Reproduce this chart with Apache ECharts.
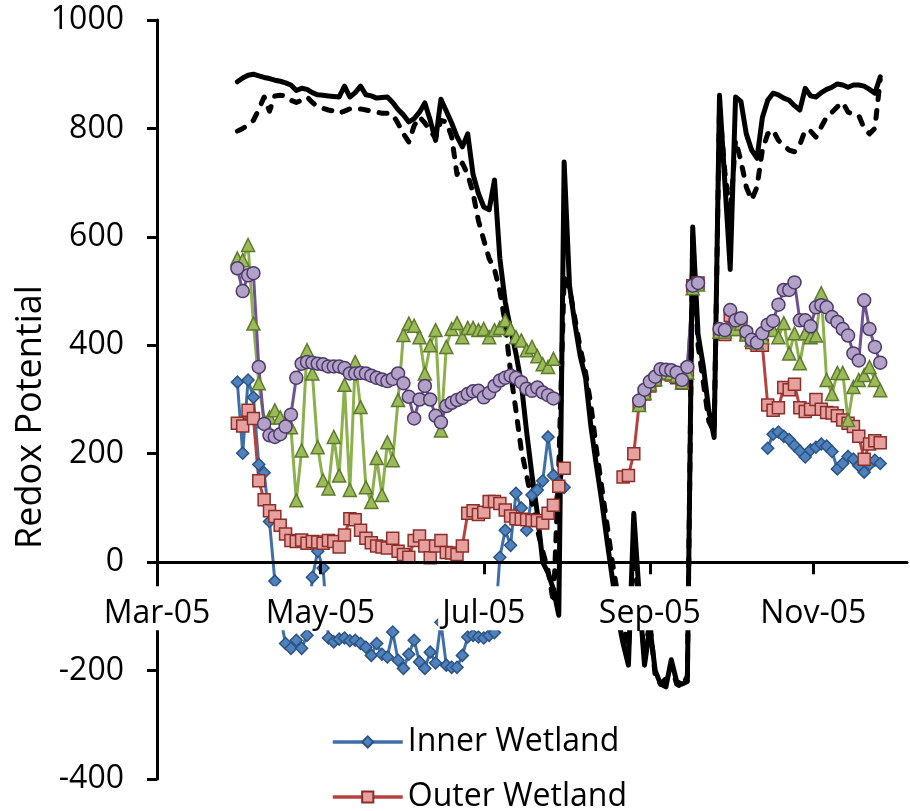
<!DOCTYPE html>
<html>
<head>
<meta charset="utf-8">
<title>Redox Potential 2005</title>
<script src="https://cdn.jsdelivr.net/npm/echarts@6/dist/echarts.min.js"></script>
<style>
  html, body { margin: 0; padding: 0; background: #fff; }
  #chart { width: 910px; height: 811px; }
</style>
</head>
<body>
<div id="chart"></div>
<script>
// x values are days counted from 1 March 2005; readings every second day from 31 March
const FIRST_DAY = 30;
const DAY_STEP = 2;
const SAMPLE_COUNT = 121;
const sampleDays = Array.from({ length: SAMPLE_COUNT }, (_, k) => FIRST_DAY + DAY_STEP * k);

// month ticks (days from 1 March 2005) and their labels
const tickDays = [0, 61, 122, 184, 245];
const tickLabels = ['Mar-05', 'May-05', 'Jul-05', 'Sep-05', 'Nov-05'];
const xMaxDay = 280;

// y axis range (mV)
const yMin = -400, yMax = 1000, yStep = 200;

const innerWetland = [
  332, 201, 336, 304, 180, 165, 75, -35, -100, -150,
  -159, -144, -159, -135, -28, 20, -11, -140, -147, -142,
  -140, -145, -144, -150, -157, -172, -150, -170, -175, -129,
  -181, -196, -170, -144, -184, -196, -166, -186, -111, -190,
  -194, -194, -172, -138, -135, -138, -140, -135, -130, 9,
  59, 31, 127, 100, 59, 124, 133, 150, 231, 160,
  146, 138, null, null, null, null, null, null, null, null,
  null, null, null, null, null, null, null, null, null, null,
  null, null, null, null, null, null, null, null, null, null,
  null, null, null, null, null, null, null, null, null, 210,
  236, 240, 232, 226, 215, 205, 194, 207, 212, 218,
  214, 204, 172, 182, 195, 190, 178, 166, 180, 188,
  182
];

const outerWetland = [
  256, 251, 280, 265, 150, 115, 95, 84, 68, 52,
  40, 38, 41, 35, 38, 37, 35, 40, 38, 28,
  50, 80, 78, 59, 44, 36, 30, 28, 26, 44,
  20, 14, 9, 40, 48, 30, 8, 30, 40, 18,
  17, 14, 30, 90, 95, 88, 92, 112, 112, 108,
  96, 85, 80, 79, 78, 77, 77, 72, 90, 105,
  140, 173, null, null, null, null, null, null, null, null,
  null, null, 157, 160, 200, 292, 310, 325, 336, 348,
  348, 345, 340, 330, 355, 510, 515, null, null, null,
  425, 420, 455, 440, 440, 420, 405, 400, 400, 290,
  280, 285, 322, 318, 328, 285, 278, 282, 300, 282,
  276, 275, 270, 262, 256, 250, 232, 190, 218, 224,
  220
];

const greenSite = [
  560, 557, 585, 440, 330, 260, 267, 280, 267, 255,
  249, 114, 206, 391, 348, 212, 151, 136, 231, 160,
  327, 133, 369, 286, 138, 111, 192, 124, 221, 188,
  299, 419, 440, 436, 415, 348, 400, 428, 243, 397,
  430, 441, 415, 432, 432, 428, 430, 415, 428, 432,
  446, 430, 415, 409, 391, 397, 380, 365, 360, 375,
  null, null, null, null, null, null, null, null, null, null,
  null, null, null, null, null, 290, 312, 328, 338, 350,
  350, 348, 344, 332, 350, 505, 512, null, null, null,
  425, 425, 430, 430, 440, 420, 410, 405, 415, 430,
  428, 415, 441, 385, 422, 367, 422, 415, 418, 496,
  336, 310, 349, 349, 262, 323, 336, 345, 360, 336,
  317
];

const purpleSite = [
  542, 500, 529, 533, 360, 255, 234, 231, 236, 250,
  272, 340, 366, 369, 368, 366, 365, 361, 361, 361,
  358, 348, 348, 349, 348, 344, 340, 337, 334, 338,
  348, 330, 305, 265, 300, 325, 300, 270, 258, 288,
  294, 299, 303, 310, 315, 316, 304, 312, 325, 335,
  340, 344, 340, 332, 320, 316, 322, 313, 308, 302,
  null, null, null, null, null, null, null, null, null, null,
  null, null, null, null, null, 298, 318, 333, 342, 356,
  355, 354, 350, 336, 360, 510, 515, null, null, null,
  430, 428, 465, 446, 450, 425, 410, 405, 422, 438,
  445, 475, 502, 502, 516, 446, 446, 435, 470, 474,
  470, 452, 443, 430, 418, 385, 372, 483, 430, 397,
  368
];

const blackSolid = [
  886, 893, 898, 900, 897, 894, 892, 889, 887, 884,
  880, 870, 874, 872, 866, 862, 861, 860, 859, 858,
  878, 858, 866, 878, 862, 860, 856, 857, 858, 848,
  835, 825, 812, 818, 830, 847, 815, 778, 854, 832,
  810, 785, 766, 790, 715, 680, 655, 650, 705, 560,
  480, 430, 385, 330, 240, 160, 90, 0, -20, -50,
  -98, 738, 510, 440, 380, 340, 250, 180, 114, 40,
  -30, -100, -150, -190, 90, -60, -190, -120, -200, -225,
  -230, -180, -220, -225, -220, 618, 420, 360, 280, 230,
  861, 700, 540, 858, 850, 790, 760, 745, 820, 852,
  865, 862, 856, 852, 842, 834, 874, 860, 858, 866,
  872, 876, 882, 880, 876, 880, 880, 878, 872, 865,
  895
];

const blackDashed = [
  795, 800, 806, 815, 835, 858, 832, 860, 861, 860,
  852, 848, 852, 858, 848, 840, 837, 834, 832, 828,
  832, 836, 837, 836, 834, 832, 830, 828, 828, 826,
  809, 790, 775, 805, 821, 810, 796, 782, 815, 812,
  785, 715, 736, 715, 680, 630, 594, 560, 540, 500,
  440, 350, 280, 207, 160, 110, 60, 20, -15, -75,
  175, 526, 505, 450, 395, 350, 290, 210, 140, 70,
  0, -60, -110, -160, 30, -80, -170, -110, -210, -225,
  -215, -190, -225, -230, -210, 600, 400, 330, 260, 240,
  840, 720, 640, 778, 740, 692, 668, 692, 760, 790,
  797, 778, 768, 760, 757, 770, 797, 795, 784, 803,
  821, 830, 840, 848, 830, 826, 824, 800, 790, 800,
  890
];

const FONT = "'Open Sans', sans-serif";

// plot rectangle in pixels
const PLOT_TOP = 20, PLOT_BOTTOM = 32, PLOT_LEFT = 157, PLOT_RIGHT = 3;
const CHART_H = 811;
const plotH = CHART_H - PLOT_TOP - PLOT_BOTTOM;
// distance from the bottom edge of the plot up to the zero line
const zeroLift = plotH * (0 - yMin) / (yMax - yMin);

function pairs(values) {
  return sampleDays.map((d, k) => [d, values[k]]);
}

function markerSeries(name, values, symbol, size, lineColor, fill, border) {
  return {
    name: name,
    type: 'line',
    data: pairs(values),
    symbol: symbol,
    symbolSize: size,
    showSymbol: true,
    connectNulls: false,
    lineStyle: { color: lineColor, width: 3 },
    itemStyle: { color: fill, borderColor: border, borderWidth: 1.5 },
    emphasis: { disabled: true }
  };
}

function legendEntry(name, top) {
  return {
    data: [name],
    orient: 'vertical',
    left: 331,
    top: top,
    padding: 0,
    itemWidth: 70,
    itemHeight: 14,
    lineStyle: { width: 3.5 },
    textStyle: { fontSize: 32, fontFamily: FONT, color: '#000' }
  };
}

const chart = echarts.init(document.getElementById('chart'), null, { renderer: 'canvas' });

chart.setOption({
  animation: false,
  backgroundColor: '#ffffff',
  textStyle: { fontFamily: FONT },
  grid: {
    left: PLOT_LEFT, right: PLOT_RIGHT, top: PLOT_TOP, bottom: PLOT_BOTTOM,
    containLabel: false, outerBoundsMode: 'none'
  },
  xAxis: {
    type: 'value',
    min: 0,
    max: xMaxDay,
    position: 'bottom',
    offset: -zeroLift,
    z: 6,
    axisLine: { onZero: false, lineStyle: { color: '#000', width: 3 } },
    axisTick: { show: true, inside: false, length: 12, lineStyle: { color: '#000', width: 3 }, customValues: tickDays },
    splitLine: { show: false },
    axisLabel: {
      customValues: tickDays,
      formatter: function (v) {
        const k = tickDays.indexOf(v);
        return k >= 0 ? tickLabels[k] : '';
      },
      fontSize: 32,
      fontFamily: FONT,
      color: '#000',
      margin: 24,
      backgroundColor: '#ffffff',
      padding: [12, 4, 0, 4]
    }
  },
  yAxis: {
    type: 'value',
    min: yMin,
    max: yMax,
    interval: yStep,
    z: 1,
    axisLine: { show: true, onZero: false, lineStyle: { color: '#000', width: 3 } },
    axisTick: { show: true, inside: false, length: 10, lineStyle: { color: '#000', width: 3 } },
    splitLine: { show: false },
    axisLabel: {
      fontSize: 32, fontFamily: FONT, color: '#000', margin: 33,
      formatter: function (v) { return String(v); }
    }
  },
  legend: [
    legendEntry('Inner Wetland', 726),
    legendEntry('Outer Wetland', 781)
  ],
  graphic: [{
    type: 'text',
    x: 31,
    y: 417,
    rotation: Math.PI / 2,
    style: {
      text: 'Redox Potential',
      font: "36px 'Open Sans', sans-serif",
      fill: '#000',
      align: 'center',
      verticalAlign: 'middle'
    }
  }],
  series: [
    markerSeries('Inner Wetland', innerWetland, 'diamond', 12, '#3F6FA8', '#4F81BD', '#2C5383'),
    markerSeries('Outer Wetland', outerWetland, 'rect', 12, '#B8413E', '#E6A19F', '#8A2E2B'),
    markerSeries('Fringe Wetland', greenSite, 'triangle', 13, '#8CB04C', '#9BBB59', '#5E7A2E'),
    markerSeries('Upland Edge', purpleSite, 'circle', 13, '#6E5293', '#B3A2C7', '#4E3A6A'),
    {
      name: 'Surface Probe',
      type: 'line',
      data: pairs(blackSolid),
      symbol: 'none',
      connectNulls: false,
      lineStyle: { color: '#000', width: 5, cap: 'round', join: 'round' },
      emphasis: { disabled: true }
    },
    {
      name: 'Deep Probe',
      type: 'line',
      data: pairs(blackDashed),
      symbol: 'none',
      connectNulls: false,
      lineStyle: { color: '#000', width: 5, type: [8, 11], cap: 'round', join: 'round' },
      emphasis: { disabled: true }
    }
  ]
});
</script>
</body>
</html>
